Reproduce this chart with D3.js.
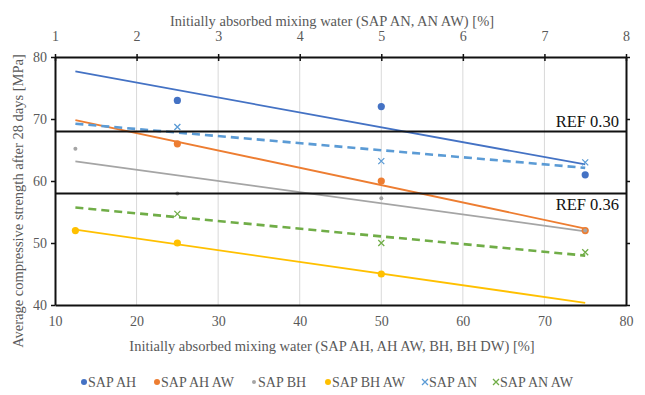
<!DOCTYPE html>
<html>
<head>
<meta charset="utf-8">
<script src="https://cdn.jsdelivr.net/npm/d3@7"></script>
<style>
	body { margin: 0; background: #fff; }
	svg text { font-family: "Liberation Serif", "Times New Roman", serif; }
</style>
</head>
<body>
<div id="chart"></div>
<script>
// Bottom axis series (SAP AH, AH AW, BH, BH AW)
const ahX = [25, 50, 75];
const ahValues = [73, 72, 61];
const ahawX = [25, 50, 75];
const ahawValues = [66, 60, 52];
const bhX = [12.5, 25, 50, 75];
const bhValues = [65.2, 58, 57.2, 52];
const bhawX = [12.5, 25, 50];
const bhawValues = [52, 50, 45];

// Top axis series (SAP AN, AN AW)
const anX = [2.5, 5, 7.5];
const anValues = [68.7, 63.2, 63];
const anawX = [2.5, 5, 7.5];
const anawValues = [54.7, 50, 48.5];

// Trendline span on each axis
const trendBottom = [12.5, 75];
const trendTop = [1.25, 7.5];

// Reference levels
const refLabels = ["REF 0.30", "REF 0.36"];
const refValues = [68, 58];

const bottomTicks = [10, 20, 30, 40, 50, 60, 70, 80];
const topTicks = [1, 2, 3, 4, 5, 6, 7, 8];
const yTicks = [40, 50, 60, 70, 80];

const WIDTH = 645, HEIGHT = 395;
const MARGIN = {TOP: 57, RIGHT: 19, BOTTOM: 90, LEFT: 55};
const GREY = "#595959";

const series = [
	{name: "SAP AH", xs: ahX, ys: ahValues, axis: "bottom", color: "#4472C4", marker: "circle", dash: null},
	{name: "SAP AH AW", xs: ahawX, ys: ahawValues, axis: "bottom", color: "#ED7D31", marker: "circle", dash: null},
	{name: "SAP BH", xs: bhX, ys: bhValues, axis: "bottom", color: "#A5A5A5", marker: "dot", dash: null},
	{name: "SAP BH AW", xs: bhawX, ys: bhawValues, axis: "bottom", color: "#FFC000", marker: "circle", dash: null},
	{name: "SAP AN", xs: anX, ys: anValues, axis: "top", color: "#5B9BD5", marker: "cross", dash: "8,5"},
	{name: "SAP AN AW", xs: anawX, ys: anawValues, axis: "top", color: "#70AD47", marker: "cross", dash: "8,5"}
];

const svg = d3.select("#chart").append("svg")
	.attr("width", WIDTH)
	.attr("height", HEIGHT);

const x = d3.scaleLinear().domain([10, 80]).range([MARGIN.LEFT, WIDTH - MARGIN.RIGHT]);
const xTop = d3.scaleLinear().domain([1, 8]).range([MARGIN.LEFT, WIDTH - MARGIN.RIGHT]);
const y = d3.scaleLinear().domain([40, 80]).range([HEIGHT - MARGIN.BOTTOM, MARGIN.TOP]);

// vertical gridlines
svg.append("g")
	.selectAll("line")
	.data(bottomTicks.slice(1, -1))
	.enter()
	.append("line")
	.attr("x1", (d) => x(d))
	.attr("x2", (d) => x(d))
	.attr("y1", y(80))
	.attr("y2", y(40))
	.attr("stroke", "#d9d9d9")
	.attr("stroke-width", 1);

// least squares line, the way the spreadsheet trendline does it
function trend(xs, ys, span)
{
	const mx = d3.mean(xs), my = d3.mean(ys);
	const sxy = d3.sum(xs, (v, i) => (v - mx) * (ys[i] - my));
	const sxx = d3.sum(xs, (v) => (v - mx) * (v - mx));
	const slope = sxy / sxx;
	return span.map((v) => [v, my + slope * (v - mx)]);
}

// trendlines
series.forEach((s) => {
	const sx = s.axis === "top" ? xTop : x;
	const span = s.axis === "top" ? trendTop : trendBottom;
	const line = d3.line().x((d) => sx(d[0])).y((d) => y(d[1]));
	svg.append("path")
		.datum(trend(s.xs, s.ys, span))
		.attr("d", line)
		.attr("fill", "none")
		.attr("stroke", s.color)
		.attr("stroke-width", s.dash ? 2.6 : 1.8)
		.attr("stroke-dasharray", s.dash);
});

function drawMarker(g, type, color, cx, cy, big)
{
	if (type === "cross") {
		const r = 3;
		g.append("path")
			.attr("d", `M${cx - r},${cy - r}L${cx + r},${cy + r}M${cx - r},${cy + r}L${cx + r},${cy - r}`)
			.attr("stroke", color)
			.attr("stroke-width", 1.3)
			.attr("fill", "none");
	} else {
		g.append("circle")
			.attr("cx", cx)
			.attr("cy", cy)
			.attr("r", type === "dot" ? 2 : (big ? 3.6 : 3))
			.attr("fill", color);
	}
}

// data points
series.forEach((s) => {
	const sx = s.axis === "top" ? xTop : x;
	const g = svg.append("g");
	s.xs.forEach((v, i) => drawMarker(g, s.marker, s.color, sx(v), y(s.ys[i]), true));
});

// reference lines
svg.append("g")
	.selectAll("line")
	.data(refValues)
	.enter()
	.append("line")
	.attr("x1", x(10))
	.attr("x2", x(80))
	.attr("y1", (d) => y(d))
	.attr("y2", (d) => y(d))
	.attr("stroke", "#111")
	.attr("stroke-width", 2);

svg.append("text")
	.attr("x", x(80) - 7)
	.attr("y", y(refValues[0]) - 4)
	.attr("text-anchor", "end")
	.attr("font-size", 16.5)
	.attr("fill", "#111")
	.text(refLabels[0]);

svg.append("text")
	.attr("x", x(80) - 7)
	.attr("y", y(refValues[1]) + 17)
	.attr("text-anchor", "end")
	.attr("font-size", 16.5)
	.attr("fill", "#111")
	.text(refLabels[1]);

// axes
function styleAxis(g)
{
	g.attr("font-family", null);
	g.select(".domain").attr("stroke", "#111").attr("stroke-width", 2);
	g.selectAll(".tick line").attr("stroke", "#111").attr("stroke-width", 1.5);
	g.selectAll(".tick text")
		.attr("fill", GREY)
		.attr("font-size", 14);
}

svg.append("g")
	.attr("transform", `translate(0,${y(40)})`)
	.call(d3.axisBottom(x).tickValues(bottomTicks).tickSize(0).tickPadding(11).tickSizeOuter(0))
	.call(styleAxis);

svg.append("g")
	.attr("transform", `translate(0,${y(80)})`)
	.call(d3.axisTop(xTop).tickValues(topTicks).tickFormat(d3.format("d")).tickSize(4).tickPadding(12).tickSizeOuter(0))
	.call(styleAxis)
	.call((g) => g.selectAll(".tick line").attr("y2", 4).attr("y1", -3));

svg.append("g")
	.attr("transform", `translate(${x(10)},0)`)
	.call(d3.axisLeft(y).tickValues(yTicks).tickSize(4).tickPadding(4).tickSizeOuter(0))
	.call(styleAxis);

svg.append("g")
	.attr("transform", `translate(${x(80)},0)`)
	.call(d3.axisRight(y).tickValues(yTicks).tickSize(4).tickFormat("").tickSizeOuter(0))
	.call(styleAxis);

// axis titles
svg.append("text")
	.attr("x", 332)
	.attr("y", 26)
	.attr("text-anchor", "middle")
	.attr("font-size", 14.5)
	.attr("fill", GREY)
	.text("Initially absorbed mixing water (SAP AN, AN AW) [%]");

svg.append("text")
	.attr("x", 332)
	.attr("y", 351)
	.attr("text-anchor", "middle")
	.attr("font-size", 14.5)
	.attr("fill", GREY)
	.text("Initially absorbed mixing water (SAP AH, AH AW, BH, BH DW) [%]");

svg.append("text")
	.attr("transform", "translate(23,201) rotate(-90)")
	.attr("text-anchor", "middle")
	.attr("font-size", 14.5)
	.attr("fill", GREY)
	.text("Average compressive strength after 28 days [MPa]");

// legend
const legendX = [84, 157, 254, 328, 425, 496];
const legend = svg.append("g").attr("transform", "translate(0,382)");
series.forEach((s, i) => {
	drawMarker(legend, s.marker, s.color, legendX[i], 0, false);
	legend.append("text")
		.attr("x", legendX[i] + 4)
		.attr("y", 5)
		.attr("font-size", 14)
		.attr("fill", GREY)
		.text(s.name);
});
</script>
</body>
</html>
